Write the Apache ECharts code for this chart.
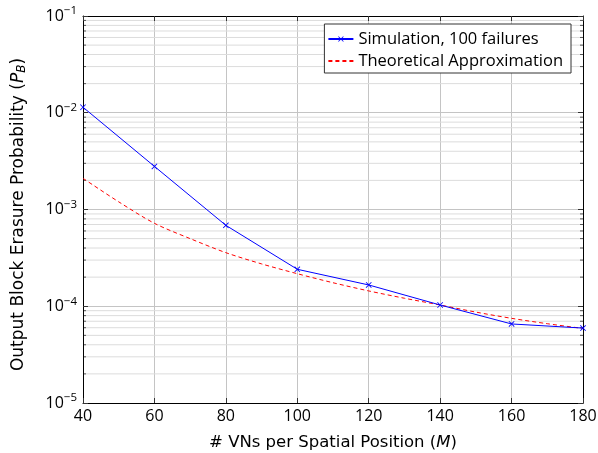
<!DOCTYPE html>
<html>
<head>
<meta charset="utf-8">
<script src="https://cdn.jsdelivr.net/npm/echarts@6/dist/echarts.min.js"></script>
<style>html,body{margin:0;padding:0;background:#fff}#c{width:598px;height:453px}</style>
</head>
<body>
<div id="c"></div>
<script>
// ---- data ----
const simX = [40, 60, 80, 100, 120, 140, 160, 180];
const simY = [1.14e-2, 2.79e-3, 6.86e-4, 2.41e-4, 1.66e-4, 1.03e-4, 6.56e-5, 5.95e-5];
const theoX = [40, 50, 60, 70, 80, 90, 100, 110, 120, 130, 140, 150, 160, 170, 180];
const theoY = [2.10e-3, 1.20e-3, 7.2e-4, 5.0e-4, 3.58e-4, 2.74e-4, 2.17e-4, 1.75e-4, 1.44e-4, 1.21e-4, 1.03e-4, 8.7e-5, 7.5e-5, 6.6e-5, 5.9e-5];
const xTicks = [40, 60, 80, 100, 120, 140, 160, 180];
const yDecades = [1e-5, 1e-4, 1e-3, 1e-2, 1e-1];
const minorMultipliers = [2, 3, 4, 5, 6, 7, 8, 9];
const simName = 'Simulation, 100 failures';
const theoName = 'Theoretical Approximation';

const FONT = 'Open Sans';
const TFONT = 'DejaVu Sans';
const FS = 16;
const FL = 16.5;
const FT = 16.5;
const FTY = 17;
const crossPath = 'path://M0,1 L1,0 L5,4 L9,0 L10,1 L6,5 L10,9 L9,10 L5,6 L1,10 L0,9 L4,5 Z';

const xMin = xTicks[0], xMax = xTicks[xTicks.length - 1];
const yMin = yDecades[0], yMax = yDecades[yDecades.length - 1];
const minorVals = [];
yDecades.slice(0, -1).forEach(d => minorMultipliers.forEach(m => minorVals.push(d * m)));

const chart = echarts.init(document.getElementById('c'), null, {renderer: 'canvas'});
const supLabel = v => {
  const e = Math.round(Math.log10(v));
  return '{b|10}{s|' + (e < 0 ? '\u2212' + (-e) : e) + '}';
};
const yLabelRich = {
  b: {fontSize: FS, fontFamily: FONT, color: '#000'},
  s: {fontSize: 11.5, fontFamily: FONT, color: '#000', verticalAlign: 'bottom', padding: [0, 0, 10, 0]}
};
const yCommon = {
  type: 'log', logBase: 10, min: yMin, max: yMax,
  axisLine: {show: true, lineStyle: {color: '#000', width: 1}},
  axisTick: {show: true, inside: true, length: 5, lineStyle: {color: '#333'}},
};
chart.setOption({
  animation: false,
  grid: {left: 83, right: 15, top: 16, bottom: 50, containLabel: false, outerBoundsMode: 'none'},
  legend: {
    orient: 'vertical', right: 27, top: 24,
    backgroundColor: '#fff', borderColor: '#333', borderWidth: 1,
    padding: [6, 8, 3, 3], itemGap: 4, itemWidth: 25, itemHeight: 7,
    textStyle: {fontFamily: FONT, fontSize: FL, color: '#000', lineHeight: 18},
    data: [{name: simName}, {name: theoName, itemStyle: {opacity: 0}}]
  },
  xAxis: [{
    type: 'value', min: xMin, max: xMax, interval: 20,
    axisLine: {show: true, onZero: false, lineStyle: {color: '#000', width: 1}},
    axisTick: {show: true, inside: true, length: 5, lineStyle: {color: '#333'}},
    axisLabel: {fontFamily: FONT, fontSize: FS, color: '#000', margin: 5},
    splitLine: {show: true, lineStyle: {color: '#c4c4c4', width: 1}},
    name: '# VNs per Spatial Position ({i|M})', nameLocation: 'middle', nameGap: 31,
    nameTextStyle: {fontFamily: TFONT, fontSize: FT, color: '#000',
      rich: {i: {fontFamily: TFONT, fontSize: FT, fontStyle: 'italic', color: '#000'}}}
  }, {
    type: 'value', position: 'top', min: xMin, max: xMax, interval: 20,
    axisLine: {show: true, onZero: false, lineStyle: {color: '#000', width: 1}},
    axisTick: {show: true, inside: true, length: 5, lineStyle: {color: '#333'}},
    axisLabel: {show: false}, splitLine: {show: false}
  }],
  yAxis: [Object.assign({}, yCommon, {
    position: 'left',
    axisLabel: {formatter: supLabel, rich: yLabelRich, margin: 6},
    splitLine: {show: true, lineStyle: {color: '#c4c4c4', width: 1}},
    name: 'Output Block Erasure Probability ({i|P}{sb|B})', nameLocation: 'middle', nameGap: 55, nameRotate: 90,
    nameTextStyle: {fontFamily: TFONT, fontSize: FTY, color: '#000', padding: [0, 10, 0, 0],
      rich: {i: {fontFamily: TFONT, fontSize: FTY, fontStyle: 'italic', color: '#000'},
             sb: {fontFamily: TFONT, fontSize: 12, fontStyle: 'italic', color: '#000', verticalAlign: 'top', padding: [7, 0, 0, 0]}}}
  }), Object.assign({}, yCommon, {
    position: 'right',
    axisLabel: {show: false}, splitLine: {show: false}
  })],
  series: [{
    name: 'minor', type: 'custom', silent: true, z: 0,
    data: minorVals.map(v => [v]),
    encode: {y: 0},
    renderItem: function (params, api) {
      const v = api.value(0);
      const a = api.coord([xMin, v]);
      const b = api.coord([xMax, v]);
      return {type: 'group', children: [
        {type: 'line', shape: {x1: a[0], y1: a[1], x2: b[0], y2: b[1]}, style: {stroke: '#dcdcdc', lineWidth: 1}},
        {type: 'line', shape: {x1: a[0], y1: a[1], x2: a[0] + 3, y2: a[1]}, style: {stroke: '#555', lineWidth: 1}},
        {type: 'line', shape: {x1: b[0] - 3, y1: b[1], x2: b[0], y2: b[1]}, style: {stroke: '#555', lineWidth: 1}}
      ]};
    }
  }, {
    name: simName, type: 'line',
    data: simX.map((x, i) => [x, simY[i]]),
    symbol: crossPath, symbolSize: 6, showAllSymbol: true,
    lineStyle: {color: '#0000ff', width: 1},
    itemStyle: {color: '#0000ff'},
    z: 4
  }, {
    name: theoName, type: 'line', smooth: 0.3,
    data: theoX.map((x, i) => [x, theoY[i]]),
    symbol: 'none',
    lineStyle: {color: '#ff0000', width: 1, type: [4, 3]},
    itemStyle: {color: '#ff0000'},
    z: 3
  }]
});
</script>
</body>
</html>
